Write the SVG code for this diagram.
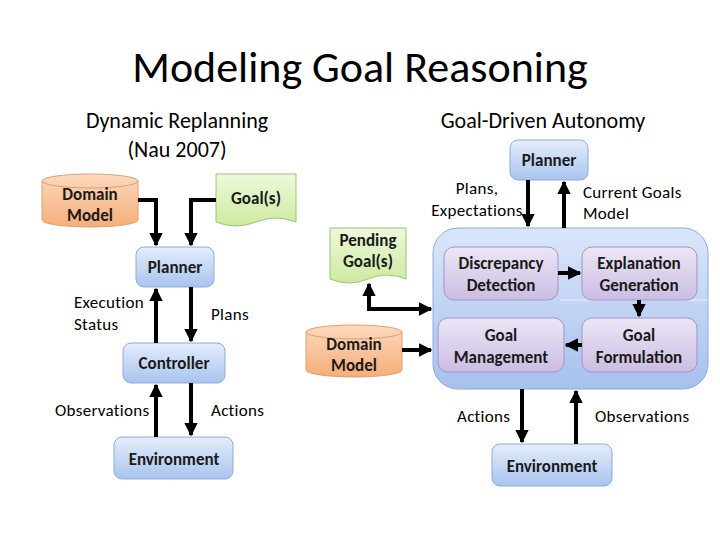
<svg xmlns="http://www.w3.org/2000/svg" width="720" height="540" viewBox="0 0 720 540">
<defs>
<linearGradient id="gb" x1="0" y1="0" x2="0" y2="1"><stop offset="0" stop-color="#e4edfb"/><stop offset="1" stop-color="#a9c4ef"/></linearGradient>
<linearGradient id="gbig" x1="0" y1="0" x2="0" y2="1"><stop offset="0" stop-color="#dbe6fa"/><stop offset="1" stop-color="#a6c1ee"/></linearGradient>
<linearGradient id="gp" x1="0" y1="0" x2="0" y2="1"><stop offset="0" stop-color="#ece6f5"/><stop offset="1" stop-color="#cbbde3"/></linearGradient>
<linearGradient id="go" x1="0" y1="0" x2="0" y2="1"><stop offset="0" stop-color="#fcd9bd"/><stop offset="1" stop-color="#f5ae7a"/></linearGradient>
<linearGradient id="gg" x1="0" y1="0" x2="0" y2="1"><stop offset="0" stop-color="#eef8da"/><stop offset="1" stop-color="#cdeaa0"/></linearGradient>
<marker id="ah" viewBox="0 0 10 10" refX="9" refY="5" markerWidth="3.4" markerHeight="3.4" orient="auto"><path d="M0,0 L10,5 L0,10 z" fill="#000"/></marker>
<style>
text{font-family:Calibri,"Carlito","Liberation Sans",sans-serif;fill:#000}
.t{font-size:17px;letter-spacing:0.3px}
.b{font-size:17px;font-weight:bold;fill:#1a1a1a}
.box{fill:url(#gb);stroke:#8eaadb;stroke-width:1}
.pb{fill:url(#gp);stroke:#a493c6;stroke-width:1}
.cyl{fill:url(#go);stroke:#e0a070;stroke-width:1}
.doc{fill:url(#gg);stroke:#9cc27a;stroke-width:1}
.c path,.c line{stroke:#000;stroke-width:4;fill:none;marker-end:url(#ah)}
</style>
</defs>
<rect width="720" height="540" fill="#fff"/>
<text x="360" y="82" text-anchor="middle" style="font-size:44px">Modeling Goal Reasoning</text>
<text x="177" y="128" text-anchor="middle" style="font-size:22px">Dynamic Replanning</text>
<text x="177" y="157" text-anchor="middle" style="font-size:22px">(Nau 2007)</text>
<text x="543" y="128" text-anchor="middle" style="font-size:22px">Goal-Driven Autonomy</text>

<g id="dm1"><path class="cyl" d="M42,181 A48,7 0 0 1 138,181 V220 A48,7 0 0 1 42,220 Z"/><path d="M42,181 A48,7 0 0 0 138,181" fill="none" stroke="#e0a070"/>
<text class="b" x="90" y="200" text-anchor="middle">Domain</text><text class="b" x="90" y="221" text-anchor="middle">Model</text></g>
<g id="goal1"><path class="doc" d="M216,174 H296 V222 Q276,214 256,222 T216,222 Z"/><text class="b" x="256" y="204" text-anchor="middle">Goal(s)</text></g>
<g id="planner1"><rect class="box" x="136" y="247" width="78" height="40" rx="8"/><text class="b" x="175" y="273" text-anchor="middle">Planner</text></g>
<g id="controller1"><rect class="box" x="123" y="343" width="102" height="40" rx="8"/><text class="b" x="174" y="369" text-anchor="middle">Controller</text></g>
<g id="env1"><rect class="box" x="114" y="437" width="119" height="42" rx="8"/><text class="b" x="174" y="465" text-anchor="middle">Environment</text></g>

<g id="planner2"><rect class="box" x="510" y="140" width="78" height="40" rx="8"/><text class="b" x="549" y="166" text-anchor="middle">Planner</text></g>
<g id="gda"><rect x="433" y="228" width="275" height="161" rx="25" fill="url(#gbig)" stroke="#8eaadb"/><line x1="560" y1="300" x2="708" y2="300" stroke="#e8effb" stroke-width="1"/></g>
<g id="dd"><rect class="pb" x="444" y="247" width="114" height="53" rx="10"/><text class="b" x="501" y="269" text-anchor="middle">Discrepancy</text><text class="b" x="501" y="291" text-anchor="middle">Detection</text></g>
<g id="eg"><rect class="pb" x="582" y="247" width="115" height="53" rx="10"/><text class="b" x="639" y="269" text-anchor="middle">Explanation</text><text class="b" x="639" y="291" text-anchor="middle">Generation</text></g>
<g id="gm"><rect class="pb" x="438" y="318" width="126" height="54" rx="10"/><text class="b" x="501" y="341" text-anchor="middle">Goal</text><text class="b" x="501" y="363" text-anchor="middle">Management</text></g>
<g id="gf"><rect class="pb" x="582" y="318" width="115" height="54" rx="10"/><text class="b" x="639" y="341" text-anchor="middle">Goal</text><text class="b" x="639" y="363" text-anchor="middle">Formulation</text></g>
<g id="pg"><path class="doc" d="M330,228 H406 V279 Q387,271 368,279 T330,279 Z"/><text class="b" x="368" y="246" text-anchor="middle">Pending</text><text class="b" x="368" y="267" text-anchor="middle">Goal(s)</text></g>
<g id="dm2"><path class="cyl" d="M306,332 A48,7 0 0 1 402,332 V370 A48,7 0 0 1 306,370 Z"/><path d="M306,332 A48,7 0 0 0 402,332" fill="none" stroke="#e0a070"/>
<text class="b" x="354" y="350" text-anchor="middle">Domain</text><text class="b" x="354" y="371" text-anchor="middle">Model</text></g>
<g id="env2"><rect class="box" x="492" y="444" width="120" height="42" rx="8"/><text class="b" x="552" y="472" text-anchor="middle">Environment</text></g>

<g id="connectors" class="c">
<path d="M138,200 H156 V245"/>
<path d="M216,200 H191 V245"/>
<line x1="156" y1="343" x2="156" y2="289"/>
<line x1="191" y1="287" x2="191" y2="341"/>
<line x1="156" y1="437" x2="156" y2="385"/>
<line x1="191" y1="383" x2="191" y2="435"/>
<line x1="528" y1="180" x2="528" y2="226"/>
<line x1="564" y1="228" x2="564" y2="182"/>
<path d="M369,305 V284"/>
<path d="M369,285 V309 H431"/>
<line x1="402" y1="350" x2="431" y2="350"/>
<line x1="558" y1="273" x2="580" y2="273"/>
<line x1="639" y1="300" x2="639" y2="316"/>
<line x1="582" y1="345" x2="566" y2="345"/>
<line x1="522" y1="389" x2="522" y2="442"/>
<line x1="576" y1="444" x2="576" y2="391"/>
</g>
<g id="labels">
<text class="t" x="74" y="308">Execution</text><text class="t" x="74" y="330">Status</text>
<text class="t" x="211" y="320">Plans</text>
<text class="t" x="55" y="416">Observations</text>
<text class="t" x="211" y="416">Actions</text>
<text class="t" x="477" y="194" text-anchor="middle">Plans,</text>
<text class="t" x="477" y="216" text-anchor="middle">Expectations</text>
<text class="t" x="583" y="198">Current Goals</text>
<text class="t" x="583" y="219">Model</text>
<text class="t" x="457" y="422">Actions</text>
<text class="t" x="595" y="422">Observations</text>
</g>
</svg>
